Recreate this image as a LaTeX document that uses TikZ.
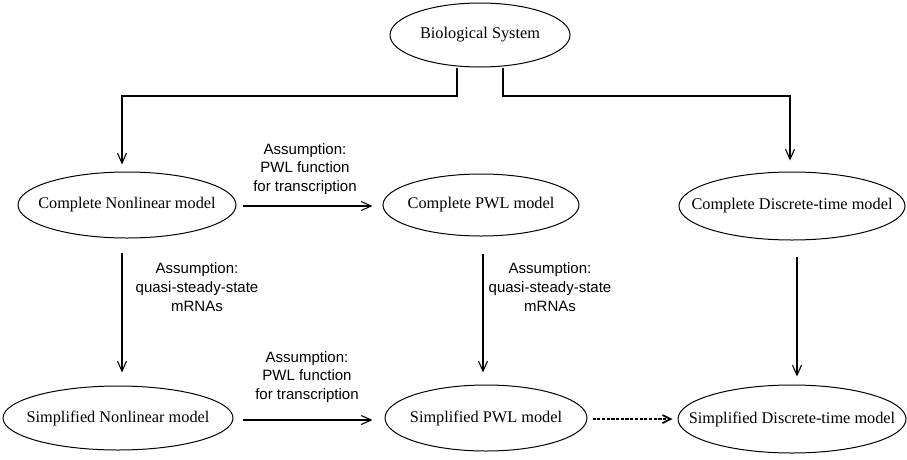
\documentclass[tikz,border=0pt]{standalone}
\usepackage{fontspec}
\setmainfont{Liberation Serif}
\newfontfamily\lblfont{Liberation Sans}
\usetikzlibrary{shapes.geometric,arrows.meta}
\newcommand{\mtxt}[1]{\makebox[0pt]{#1}}
\begin{document}
\begin{tikzpicture}[x=1pt,y=-1pt,
  model/.style={draw, ellipse, line width=1pt, inner sep=0pt, font=\fontsize{16.3}{18}\selectfont},
  arr/.style={line width=1.1pt, -{Straight Barb[length=10pt,width=9pt,line width=1.1pt]}},
  darr/.style={line width=2.2pt, dash pattern=on 3.2pt off 1.5pt, -{Straight Barb[length=8pt,width=8pt,line width=1.8pt]}},
  lbl/.style={font=\lblfont\fontsize{15}{18.7}\selectfont, align=center}]
\useasboundingbox (0,0) rectangle (907,459);
% x positions of vertical connectors
\coordinate (xa) at (122,0);
\coordinate (xb) at (483,0);
\coordinate (xc) at (797,0);
\coordinate (xd) at (790,0);
\coordinate (jl) at (457,96);
\coordinate (jr) at (503,96);
% nodes
\node[model, minimum width=180pt, minimum height=64pt] (bio) at (480,35) {\mtxt{Biological System}};
\node[model, minimum width=218pt, minimum height=66pt] (cn) at (127,205) {\mtxt{Complete Nonlinear model}};
\node[model, minimum width=196pt, minimum height=62pt] (cp) at (481,205) {\mtxt{Complete PWL model}};
\node[model, minimum width=226pt, minimum height=68pt] (cd) at (792,206) {\mtxt{Complete Discrete-time model}};
\node[model, minimum width=230pt, minimum height=64pt] (sn) at (118,418) {\mtxt{Simplified Nonlinear model}};
\node[model, minimum width=202pt, minimum height=66pt] (sp) at (486,418) {\mtxt{Simplified PWL model}};
\node[model, minimum width=228pt, minimum height=68pt] (sd) at (792,419) {\mtxt{Simplified Discrete-time model}};
% labels
\node[lbl] (l1) at (305,169) {Assumption:\\PWL function\\for transcription};
\node[lbl] (l2) at (197,287) {Assumption:\\quasi-steady-state\\mRNAs};
\node[lbl] (l3) at (550,287) {Assumption:\\quasi-steady-state\\mRNAs};
\node[lbl] (l4) at (307,377) {Assumption:\\PWL function\\for transcription};
% connectors
\draw[arr, shorten >=7pt] (bio.south -| jl) -- (jl) -| (cn.north -| xa);
\draw[arr, shorten >=11pt] (bio.south -| jr) -- (jr) -| (cd.north -| xd);
\draw[arr, shorten <=6pt, shorten >=10pt] ([yshift=-1pt]cn.east) -- ([yshift=-1pt]cp.west);
\draw[arr, shorten <=14pt, shorten >=13pt] (cn.south -| xa) -- (sn.north -| xa);
\draw[arr, shorten <=17pt, shorten >=12pt] (cp.south -| xb) -- (sp.north -| xb);
\draw[arr, shorten <=16pt, shorten >=8pt] (cd.south -| xc) -- (sd.north -| xc);
\draw[arr, shorten <=9pt, shorten >=12pt] ([yshift=-2pt]sn.east) -- ([yshift=-2pt]sn.east -| sp.west);
\draw[darr, shorten <=5pt, shorten >=5pt] ([yshift=-1pt]sp.east) -- ([yshift=-1pt]sp.east -| sd.west);
\end{tikzpicture}
\end{document}
